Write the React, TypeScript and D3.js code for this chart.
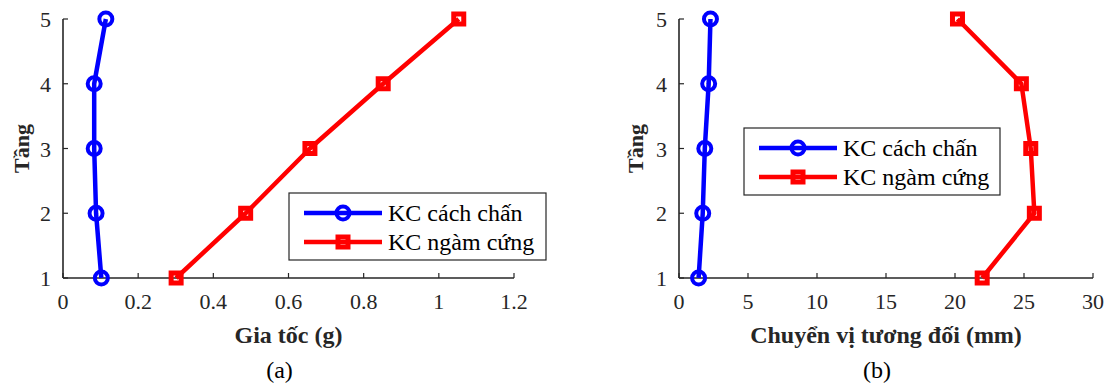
import React, { useEffect, useRef } from "react";
import * as d3 from "d3";

const floors = [1, 2, 3, 4, 5];
const accIsolated = [0.102, 0.088, 0.083, 0.083, 0.114];
const accFixed = [0.301, 0.486, 0.657, 0.852, 1.053];
const driftIsolated = [1.42, 1.72, 1.87, 2.15, 2.28];
const driftFixed = [21.97, 25.75, 25.49, 24.81, 20.18];
const accTicks = [0, 0.2, 0.4, 0.6, 0.8, 1, 1.2];
const driftTicks = [0, 5, 10, 15, 20, 25, 30];
const seriesNames = ["KC cách chấn", "KC ngàm cứng"];

const FONT = "Liberation Serif";
const AX = "#262626";
const BLUE = "#0000ff";
const RED = "#ff0000";

type Panel = {
  left: number;
  right: number;
  xDomain: [number, number];
  ticks: number[];
  blue: number[];
  red: number[];
  xlabel: string;
  caption: string;
  yLabelX: number;
  legend: { x: number; y: number; w: number; h: number };
};

const panels: Panel[] = [
  {
    left: 63, right: 514, xDomain: [0, 1.2], ticks: accTicks,
    blue: accIsolated, red: accFixed, xlabel: "Gia tốc (g)", caption: "(a)",
    yLabelX: 22, legend: { x: 289, y: 193, w: 257, h: 67 },
  },
  {
    left: 679, right: 1093, xDomain: [0, 30], ticks: driftTicks,
    blue: driftIsolated, red: driftFixed, xlabel: "Chuyển vị tương đối (mm)", caption: "(b)",
    yLabelX: 636, legend: { x: 744, y: 128, w: 256, h: 67 },
  },
];

export default function App() {
  const ref = useRef<SVGSVGElement>(null);

  useEffect(() => {
    const svg = d3.select(ref.current);
    svg.selectAll("*").remove();

    const y = d3.scaleLinear().domain([1, 5]).range([278, 19]);

    panels.forEach(p => {
      const g = svg.append("g");
      const x = d3.scaleLinear().domain(p.xDomain).range([p.left, p.right]);

      // X axis (ticks pointing inward)
      g.append("line")
        .attr("x1", p.left).attr("x2", p.right)
        .attr("y1", y(1)).attr("y2", y(1))
        .attr("stroke", AX).attr("stroke-width", 1.6);
      p.ticks.forEach(t => {
        g.append("line")
          .attr("x1", x(t)).attr("x2", x(t))
          .attr("y1", y(1)).attr("y2", y(1) - 5)
          .attr("stroke", AX).attr("stroke-width", 1.2);
        g.append("text")
          .attr("x", x(t)).attr("y", y(1) + 31)
          .attr("text-anchor", "middle")
          .style("font-family", FONT).style("font-size", "22px")
          .attr("fill", AX)
          .text(String(t));
      });

      // Y axis
      g.append("line")
        .attr("x1", p.left).attr("x2", p.left)
        .attr("y1", y(1)).attr("y2", y(5))
        .attr("stroke", AX).attr("stroke-width", 1.6);
      floors.forEach(f => {
        g.append("line")
          .attr("x1", p.left).attr("x2", p.left + 5)
          .attr("y1", y(f)).attr("y2", y(f))
          .attr("stroke", AX).attr("stroke-width", 1.2);
        g.append("text")
          .attr("x", p.left - 12).attr("y", y(f) + 8)
          .attr("text-anchor", "end")
          .style("font-family", FONT).style("font-size", "22px")
          .attr("fill", AX)
          .text(String(f));
      });

      // Labels
      g.append("text")
        .attr("transform", `translate(${p.yLabelX + 7},${(y(1) + y(5)) / 2}) rotate(-90)`)
        .attr("text-anchor", "middle")
        .style("font-family", FONT).style("font-size", "22px").style("font-weight", "bold")
        .attr("fill", AX)
        .text("Tầng");
      g.append("text")
        .attr("x", (p.left + p.right) / 2).attr("y", 343)
        .attr("text-anchor", "middle")
        .style("font-family", FONT).style("font-size", "24px").style("font-weight", "bold")
        .attr("fill", AX)
        .text(p.xlabel);
      g.append("text")
        .attr("x", (p.left + p.right) / 2 - 9).attr("y", 378)
        .attr("text-anchor", "middle")
        .style("font-family", FONT).style("font-size", "24px")
        .attr("fill", "#000")
        .text(p.caption);

      const line = d3.line<number>()
        .x(d => x(d))
        .y((_, i) => y(floors[i]));

      // Blue series
      g.append("path")
        .datum(p.blue)
        .attr("d", line)
        .attr("fill", "none").attr("stroke", BLUE).attr("stroke-width", 4.5)
        .attr("stroke-linejoin", "round");
      g.selectAll(".cb")
        .data(p.blue)
        .join("circle")
        .attr("cx", d => x(d)).attr("cy", (_, i) => y(floors[i]))
        .attr("r", 6.5).attr("fill", "none")
        .attr("stroke", BLUE).attr("stroke-width", 4);

      // Red series
      g.append("path")
        .datum(p.red)
        .attr("d", line)
        .attr("fill", "none").attr("stroke", RED).attr("stroke-width", 4.5)
        .attr("stroke-linejoin", "round");
      g.selectAll(".sr")
        .data(p.red)
        .join("rect")
        .attr("x", d => x(d) - 5).attr("y", (_, i) => y(floors[i]) - 5)
        .attr("width", 10).attr("height", 10).attr("fill", "none")
        .attr("stroke", RED).attr("stroke-width", 5);

      // Legend
      const L = p.legend;
      const lg = g.append("g");
      lg.append("rect")
        .attr("x", L.x).attr("y", L.y).attr("width", L.w).attr("height", L.h)
        .attr("fill", "#fff").attr("stroke", AX).attr("stroke-width", 1.2);
      seriesNames.forEach((name, i) => {
        const cy = L.y + 20 + i * 29;
        const color = i === 0 ? BLUE : RED;
        lg.append("line")
          .attr("x1", L.x + 15).attr("x2", L.x + 93)
          .attr("y1", cy).attr("y2", cy)
          .attr("stroke", color).attr("stroke-width", 4.5);
        const mx = L.x + 54;
        if (i === 0) {
          lg.append("circle")
            .attr("cx", mx).attr("cy", cy).attr("r", 6.5)
            .attr("fill", "none").attr("stroke", color).attr("stroke-width", 4);
        } else {
          lg.append("rect")
            .attr("x", mx - 5).attr("y", cy - 5).attr("width", 10).attr("height", 10)
            .attr("fill", "none").attr("stroke", color).attr("stroke-width", 5);
        }
        lg.append("text")
          .attr("x", L.x + 99).attr("y", cy + 8)
          .style("font-family", FONT).style("font-size", "24px")
          .attr("fill", "#000")
          .text(name);
      });
    });
  }, []);

  return (
    <svg
      ref={ref}
      width={1105}
      height={383}
      style={{ position: "absolute", left: 0, top: 0, background: "#fff" }}
    />
  );
}
